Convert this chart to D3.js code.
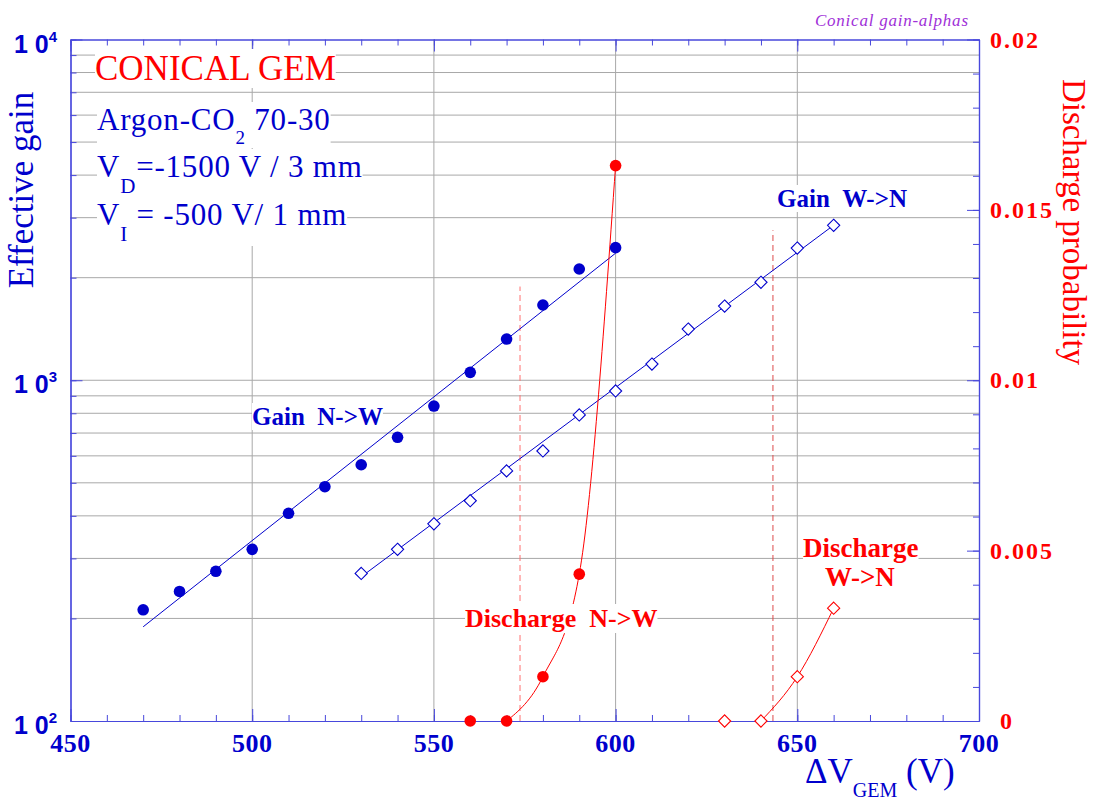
<!DOCTYPE html>
<html>
<head>
<meta charset="utf-8">
<script src="https://cdn.jsdelivr.net/npm/d3@7"></script>
<style>
  html, body { margin: 0; padding: 0; background: #fff; }
  svg { display: block; }
</style>
</head>
<body>
<svg id="chart" width="1099" height="805"></svg>
<script>
// Gain N->W (filled circles)
const voltsNW = [470, 480, 490, 500, 510, 520, 530, 540, 550, 560, 570, 580, 590, 600];
const gainNW  = [212, 240, 275, 319, 407, 487, 565, 680, 840, 1055, 1321, 1663, 2121, 2450];
// Gain W->N (open diamonds)
const voltsWN = [530, 540, 550, 560, 570, 580, 590, 600, 610, 620, 630, 640, 650, 660];
const gainWN  = [271, 319, 379, 443, 542, 620, 791, 930, 1116, 1413, 1651, 1939, 2443, 2849];
// Exponential fits (end points)
const fitVoltsNW = [470, 600];
const fitGainNW  = [189, 2360];
const fitVoltsWN = [530, 660];
const fitGainWN  = [265, 2850];
// Discharge probability
const dischVoltsNW = [560, 570, 580, 590, 600];
const dischNW      = [0, 0, 0.0013, 0.00431, 0.0163];
const dischVoltsWN = [630, 640, 650, 660];
const dischWN      = [0, 0, 0.0013, 0.00331];
// Dashed threshold markers
const thresholdVolts = [573.7, 643.3];
const thresholdTops  = [0.01275, 0.0144];
// Axis ticks
const xMajor = [450, 500, 550, 600, 650, 700];
const xMinor = d3.range(450, 701, 10);
const gainDecades = [100, 1000, 10000];
const gainExponents = ["2", "3", "4"];
const probMajor = [0, 0.005, 0.01, 0.015, 0.02];
const probLabels = ["0", "0.005", "0.01", "0.015", "0.02"];
const probMinor = d3.range(0, 0.02001, 0.001);

const BLUE = "#0000cc", AXIS_BLUE = "#4848dc", RED = "#ff0000", GRID = "#a8a8a8";
const SERIF = "'Liberation Serif', 'Times New Roman', serif";
const SANS = "'Liberation Sans', Arial, sans-serif";

const L = 70.5, R = 979, T = 39.5, B = 721;
const svg = d3.select("#chart");

const x = d3.scaleLinear().domain([450, 700]).range([L, R]);
const yGain = d3.scaleLog().domain([100, 10000]).range([B, T]);
const yProb = d3.scaleLinear().domain([0, 0.02]).range([B, T]);

const gainMinor = [];
[100, 1000].forEach(d => { for (let k = 1; k <= 9; k++) gainMinor.push(d * k); });
gainMinor.push(10000);

// Grid
const grid = svg.append("g");
grid.selectAll("line.h").data(gainMinor.filter(v => v > 100 && v < 10000)).join("line")
  .attr("x1", L).attr("x2", R)
  .attr("y1", d => yGain(d)).attr("y2", d => yGain(d))
  .attr("stroke", GRID).attr("stroke-width", 1);
grid.selectAll("line.v").data(xMajor.filter(v => v > 450 && v < 700)).join("line")
  .attr("x1", d => x(d)).attr("x2", d => x(d))
  .attr("y1", T).attr("y2", B)
  .attr("stroke", GRID).attr("stroke-width", 1);

// Threshold dashed lines
const dashColors = ["#ff7070", "#dd4a4a"];
svg.append("g").selectAll("line").data(thresholdVolts).join("line")
  .attr("x1", d => x(d)).attr("x2", d => x(d))
  .attr("y1", B).attr("y2", (d, i) => yProb(thresholdTops[i]))
  .attr("stroke", (d, i) => dashColors[i]).attr("stroke-width", 1)
  .attr("stroke-dasharray", "6,4");

// Fit lines
const gainLine = d3.line().x(d => x(d[0])).y(d => yGain(d[1]));
svg.append("path").datum(d3.zip(fitVoltsNW, fitGainNW))
  .attr("d", gainLine).attr("fill", "none").attr("stroke", BLUE).attr("stroke-width", 1);
svg.append("path").datum(d3.zip(fitVoltsWN, fitGainWN))
  .attr("d", gainLine).attr("fill", "none").attr("stroke", BLUE).attr("stroke-width", 1);

// Discharge curves (from the last zero point upward)
const probLine = d3.line().x(d => x(d[0])).y(d => yProb(d[1])).curve(d3.curveMonotoneX);
svg.append("path").datum(d3.zip(dischVoltsNW, dischNW).slice(1))
  .attr("d", probLine).attr("fill", "none").attr("stroke", RED).attr("stroke-width", 1);
svg.append("path").datum(d3.zip(dischVoltsWN, dischWN).slice(1))
  .attr("d", probLine).attr("fill", "none").attr("stroke", RED).attr("stroke-width", 1);

// Axes frame and ticks
function tickAxis(axisFn, scale, values, size) {
  return axisFn(scale).tickValues(values).tickSize(size).tickFormat("").tickSizeOuter(0);
}
function drawAxis(transform, axisFn, scale, minor, major) {
  const g1 = svg.append("g").attr("transform", transform).call(tickAxis(axisFn, scale, minor, 6));
  const g2 = svg.append("g").attr("transform", transform).call(tickAxis(axisFn, scale, major, 12));
  [g1, g2].forEach(g => {
    g.selectAll("line").attr("stroke", AXIS_BLUE).attr("stroke-width", 1);
    g.selectAll("path").attr("stroke", AXIS_BLUE).attr("stroke-width", 1.2);
  });
}
drawAxis(`translate(0,${B})`, d3.axisTop, x, xMinor, xMajor);
drawAxis(`translate(0,${T})`, d3.axisBottom, x, xMinor, xMajor);
drawAxis(`translate(${L},0)`, d3.axisRight, yGain, gainMinor, gainDecades);
drawAxis(`translate(${R},0)`, d3.axisLeft, yProb, probMinor, probMajor);

// Markers
svg.append("g").selectAll("circle").data(d3.zip(voltsNW, gainNW)).join("circle")
  .attr("cx", d => x(d[0])).attr("cy", d => yGain(d[1])).attr("r", 5.8).attr("fill", BLUE);
const diamond = d3.symbol().type(d3.symbolDiamond2).size(95);
svg.append("g").selectAll("path").data(d3.zip(voltsWN, gainWN)).join("path")
  .attr("transform", d => `translate(${x(d[0])},${yGain(d[1])})`)
  .attr("d", diamond).attr("fill", "#fff").attr("stroke", BLUE).attr("stroke-width", 1.1);
svg.append("g").selectAll("circle").data(d3.zip(dischVoltsNW, dischNW)).join("circle")
  .attr("cx", d => x(d[0])).attr("cy", d => yProb(d[1])).attr("r", 5.8).attr("fill", RED);
svg.append("g").selectAll("path").data(d3.zip(dischVoltsWN, dischWN)).join("path")
  .attr("transform", d => `translate(${x(d[0])},${yProb(d[1])})`)
  .attr("d", diamond).attr("fill", "#fff").attr("stroke", RED).attr("stroke-width", 1.1);

// Tick labels
svg.append("g").selectAll("text").data(xMajor).join("text")
  .attr("x", d => x(d)).attr("y", B + 31)
  .attr("text-anchor", "middle").attr("font-family", SERIF).attr("font-weight", "bold")
  .attr("font-size", 26).attr("letter-spacing", 0.5).attr("fill", BLUE)
  .text(d => d);

const gl = svg.append("g").selectAll("text").data(gainDecades).join("text")
  .attr("x", 14).attr("y", d => yGain(d) + 13)
  .attr("font-family", SANS).attr("font-weight", "bold").attr("fill", BLUE);
gl.append("tspan").attr("font-size", 25).text("1 0");
gl.append("tspan").attr("font-size", 15).attr("dy", -11).text((d, i) => gainExponents[i]);

svg.append("g").selectAll("text").data(probMajor).join("text")
  .attr("x", d => d === 0 ? 1000 : 990).attr("y", d => yProb(d) + 8)
  .attr("font-family", SERIF).attr("font-weight", "bold")
  .attr("font-size", 24).attr("letter-spacing", 2).attr("fill", RED)
  .text((d, i) => probLabels[i]);

// Axis titles
svg.append("text").attr("transform", "translate(33,190) rotate(-90)")
  .attr("text-anchor", "middle").attr("font-family", SERIF).attr("font-size", 35)
  .attr("fill", BLUE).text("Effective gain");
svg.append("text").attr("transform", "translate(1063,222) rotate(90)")
  .attr("text-anchor", "middle").attr("font-family", SERIF).attr("font-size", 33)
  .attr("fill", RED).text("Discharge probability");

const xt = svg.append("text").attr("x", 805).attr("y", 783)
  .attr("font-family", SERIF).attr("fill", BLUE);
xt.append("tspan").attr("font-size", 35).text("ΔV");
xt.append("tspan").attr("font-size", 20).attr("dy", 14).text("GEM");
xt.append("tspan").attr("font-size", 35).attr("dy", -14).text(" (V)");

svg.append("text").attr("x", 815).attr("y", 26)
  .attr("font-family", SERIF).attr("font-style", "italic").attr("font-size", 17)
  .attr("fill", "#a030d8").attr("textLength", 153).text("Conical gain-alphas");

// Annotations with opaque background
const notes = svg.append("g");
function boxed(xp, yp, opts, parts) {
  const t = notes.append("text").attr("x", xp).attr("y", yp)
    .attr("font-family", SERIF).attr("font-size", opts.size)
    .attr("font-weight", opts.bold ? "bold" : "normal").attr("fill", opts.color);
  if (opts.spacing) t.attr("letter-spacing", opts.spacing);
  parts.forEach(p => {
    const s = t.append("tspan").text(p.t);
    if (p.size) s.attr("font-size", p.size);
    if (p.dy) s.attr("dy", p.dy);
  });
  const bb = t.node().getBBox();
  notes.insert("rect", () => t.node())
    .attr("x", bb.x).attr("y", bb.y).attr("width", bb.width).attr("height", bb.height)
    .attr("fill", "#fff");
  return t;
}
boxed(95, 80, {size: 35, color: RED}, [{t: "CONICAL GEM"}]);
boxed(97, 130, {size: 31, spacing: 0.8, color: BLUE}, [{t: "Argon-CO"}, {t: "2", size: 19, dy: 14}, {t: " 70-30", dy: -14}]);
boxed(97, 177, {size: 31, spacing: 0.8, color: BLUE}, [{t: "V"}, {t: "D", size: 21, dy: 16}, {t: "=-1500 V / 3 mm", dy: -16}]);
boxed(97, 225, {size: 31, spacing: 0.8, color: BLUE}, [{t: "V"}, {t: "I", size: 21, dy: 16}, {t: " = -500 V/ 1 mm", dy: -16}]);
boxed(252, 425, {size: 25, bold: true, color: BLUE}, [{t: "Gain\u00a0\u00a0N->W"}]);
boxed(777, 207, {size: 25, bold: true, color: BLUE}, [{t: "Gain\u00a0\u00a0W->N"}]);
boxed(465, 627, {size: 26, bold: true, color: RED}, [{t: "Discharge\u00a0\u00a0N->W"}]);
boxed(803, 557, {size: 27, bold: true, color: RED}, [{t: "Discharge"}]);
boxed(825, 586, {size: 27, bold: true, color: RED}, [{t: "W->N"}]);
</script>
</body>
</html>
